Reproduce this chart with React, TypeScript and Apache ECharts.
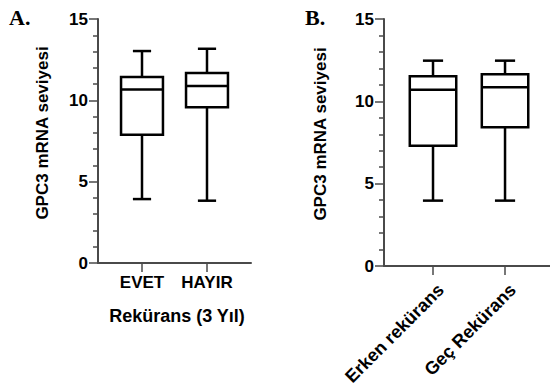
import React, { useEffect, useRef } from "react";
import * as echarts from "echarts";

// Panel A: Rekürans (3 Yıl)
const groupsA = ["EVET", "HAYIR"];
const minA = [3.93, 3.83];
const q1A = [7.89, 9.57];
const medA = [10.67, 10.88];
const q3A = [11.43, 11.68];
const maxA = [13.03, 13.17];

// Panel B: Erken / Geç rekürans
const groupsB = ["Erken rekürans", "Geç Rekürans"];
const minB = [3.97, 3.97];
const q1B = [7.3, 8.42];
const medB = [10.71, 10.85];
const q3B = [11.52, 11.64];
const maxB = [12.47, 12.47];

const yTicks = [0, 5, 10, 15];
const yTitle = "GPC3 mRNA seviyesi";

const FONT = "'Liberation Sans', Arial, sans-serif";
const AXIS_COLOR = "#4a4a4a";

function buildData(mins: number[], q1: number[], med: number[], q3: number[], maxs: number[]) {
  return mins.map((_, i) => [i + 1, mins[i], q1[i], med[i], q3[i], maxs[i]]);
}

const renderBox = (params: any, api: any) => {
  const x = api.value(0);
  const pMin = api.coord([x, api.value(1)]);
  const pQ1 = api.coord([x, api.value(2)]);
  const pMed = api.coord([x, api.value(3)]);
  const pQ3 = api.coord([x, api.value(4)]);
  const pMax = api.coord([x, api.value(5)]);
  const unit = api.size([1, 0])[0];
  const bw = unit * 0.645;
  const cw = unit * 0.28;
  const cx = pMed[0];
  const st = { stroke: "#000", lineWidth: 2.5, fill: "none" };
  return {
    type: "group",
    children: [
      { type: "line", shape: { x1: cx, y1: pQ3[1], x2: cx, y2: pMax[1] }, style: st },
      { type: "line", shape: { x1: cx, y1: pQ1[1], x2: cx, y2: pMin[1] }, style: st },
      { type: "line", shape: { x1: cx - cw / 2, y1: pMax[1], x2: cx + cw / 2, y2: pMax[1] }, style: st },
      { type: "line", shape: { x1: cx - cw / 2, y1: pMin[1], x2: cx + cw / 2, y2: pMin[1] }, style: st },
      {
        type: "rect",
        shape: { x: cx - bw / 2, y: pQ3[1], width: bw, height: pQ1[1] - pQ3[1] },
        style: { stroke: "#000", lineWidth: 2.5, fill: "#fff" },
      },
      { type: "line", shape: { x1: cx - bw / 2, y1: pMed[1], x2: cx + bw / 2, y2: pMed[1] }, style: st },
    ],
  };
};

function yAxisDef(gridIndex: number) {
  return {
    type: "value",
    gridIndex,
    min: 0,
    max: 15,
    interval: 5,
    axisLine: { show: true, lineStyle: { color: AXIS_COLOR, width: 2 } },
    axisTick: { show: true, length: 9, lineStyle: { color: AXIS_COLOR, width: 1.5 } },
    minorTick: { show: true, splitNumber: 5, length: 5, lineStyle: { color: AXIS_COLOR, width: 1.5 } },
    splitLine: { show: false },
    axisLabel: {
      margin: 10,
      fontFamily: FONT,
      fontSize: 17,
      fontWeight: "bold",
      color: "#000",
      customValues: yTicks,
    },
  };
}

export default function App() {
  const ref = useRef<HTMLDivElement>(null);
  useEffect(() => {
    if (!ref.current) return;
    const chart = echarts.init(ref.current, null, { renderer: "svg" });
    chart.setOption({
      animation: false,
      backgroundColor: "#fff",
      textStyle: { fontFamily: FONT },
      grid: [
        { left: 98, top: 19, width: 153, height: 244, outerBoundsMode: "none" },
        { left: 384, top: 19, width: 170, height: 247, outerBoundsMode: "none" },
      ],
      xAxis: [
        {
          type: "value",
          gridIndex: 0,
          min: 0.323,
          max: 2.677,
          name: "Rekürans (3 Yıl)",
          nameLocation: "middle",
          nameGap: 44,
          nameMoveOverlap: false,
          nameTextStyle: { fontFamily: FONT, fontSize: 18, fontWeight: "bold", color: "#000", padding: [0, 0, 0, 5] },
          axisLine: { show: true, onZero: false, lineStyle: { color: AXIS_COLOR, width: 2 } },
          axisTick: { show: true, length: 9, customValues: [1, 2], lineStyle: { color: AXIS_COLOR, width: 1.5 } },
          splitLine: { show: false },
          axisLabel: {
            customValues: [1, 2],
            formatter: (v: number) => groupsA[Math.round(v) - 1] ?? "",
            margin: 11,
            fontFamily: FONT,
            fontSize: 17,
            fontWeight: "bold",
            color: "#000",
          },
        },
        {
          type: "value",
          gridIndex: 1,
          min: 0.3194,
          max: 2.68,
          axisLine: { show: true, onZero: false, lineStyle: { color: AXIS_COLOR, width: 2 } },
          axisTick: { show: true, length: 9, customValues: [1, 2], lineStyle: { color: AXIS_COLOR, width: 1.5 } },
          splitLine: { show: false },
          axisLabel: {
            customValues: [1.11, 2.11],
            formatter: (v: number) => groupsB[Math.round(v) - 1] ?? "",
            rotate: 45,
            margin: 21,
            fontFamily: FONT,
            fontSize: 18,
            fontWeight: "bold",
            color: "#000",
          },
        },
      ],
      yAxis: [yAxisDef(0), yAxisDef(1)],
      series: [
        {
          type: "custom",
          xAxisIndex: 0,
          yAxisIndex: 0,
          renderItem: renderBox,
          encode: { x: 0, y: [1, 2, 3, 4, 5] },
          data: buildData(minA, q1A, medA, q3A, maxA),
        },
        {
          type: "custom",
          xAxisIndex: 1,
          yAxisIndex: 1,
          renderItem: renderBox,
          encode: { x: 0, y: [1, 2, 3, 4, 5] },
          data: buildData(minB, q1B, medB, q3B, maxB),
        },
      ],
      graphic: [
        {
          type: "text",
          left: 9,
          top: 6,
          style: { text: "A.", font: "bold 22px 'Liberation Serif', 'Times New Roman', serif", fill: "#000" },
        },
        {
          type: "text",
          left: 305,
          top: 6,
          style: { text: "B.", font: "bold 22px 'Liberation Serif', 'Times New Roman', serif", fill: "#000" },
        },
        {
          type: "text",
          x: 42,
          y: 133,
          rotation: Math.PI / 2,
          style: {
            text: yTitle,
            font: `bold 17px ${FONT}`,
            fill: "#000",
            align: "center",
            verticalAlign: "middle",
          },
        },
        {
          type: "text",
          x: 320,
          y: 134,
          rotation: Math.PI / 2,
          style: {
            text: yTitle,
            font: `bold 17px ${FONT}`,
            fill: "#000",
            align: "center",
            verticalAlign: "middle",
          },
        },
      ],
    });
    return () => chart.dispose();
  }, []);
  return (
    <div
      ref={ref}
      style={{ position: "fixed", left: 0, top: 0, width: 550, height: 389, background: "#fff" }}
    />
  );
}
